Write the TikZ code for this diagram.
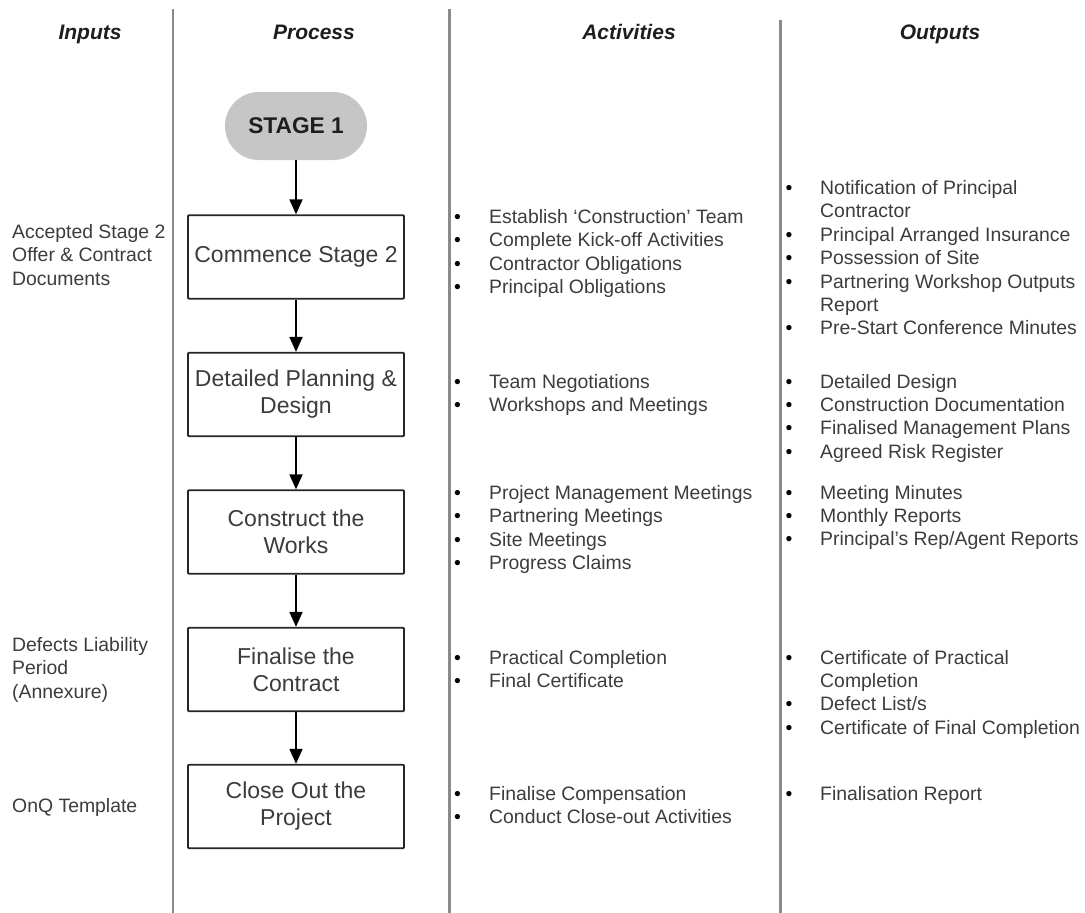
\documentclass[tikz,border=0pt]{standalone}
\usepackage{fontspec}
\setmainfont{Liberation Sans}
\usetikzlibrary{arrows.meta}
\definecolor{rule}{HTML}{8A8A8A}
\definecolor{ink}{HTML}{3C3C3C}
\definecolor{head}{HTML}{1E1E1E}
\definecolor{pill}{HTML}{C6C6C6}
\newcommand\blt{\textcolor{black}{\textbullet}}
\begin{document}
\begin{tikzpicture}[x=1pt,y=-1pt,
  colrule/.style={draw=rule,line width=2.6pt},
  header/.style={font=\fontsize{21}{25}\selectfont\bfseries\itshape,text=head,anchor=base,inner sep=0pt},
  stagebox/.style={draw=black!85,line width=1.8pt,fill=white,minimum width=216pt,minimum height=83.5pt,
    align=center,font=\fontsize{23}{27}\selectfont,text=ink,inner sep=0pt,rounded corners=1pt},
  startpill/.style={fill=pill,minimum width=142pt,minimum height=68pt,rounded corners=33.9pt,
    font=\fontsize{22.7}{26}\selectfont\bfseries,text=head,inner sep=0pt},
  flow/.style={draw=black,line width=1.8pt,-{Triangle[length=15pt,width=13pt]}},
  plain/.style={font=\fontsize{19.4}{23.4}\selectfont,text=ink,anchor=base west,inner sep=0pt}
]
\useasboundingbox (0,0) rectangle (1085,913);

% column separators
\draw[colrule] (173,9) -- (173,913);
\draw[colrule] (449.5,9) -- (449.5,913);
\draw[colrule] (780.5,20) -- (780.5,913);

% column headings
\node[header] (hIn)  at (90,39.5)  {Inputs};
\node[header] (hPr)  at (314,39.5) {Process};
\node[header] (hAc)  at (629,39.5) {Activities};
\node[header] (hOut) at (940,39.5) {Outputs};

% process flow
\node[startpill] (s1) at (296,126) {STAGE 1};
\node[stagebox] (b1) at (296,257)   {Commence Stage 2};
\node[stagebox] (b2) at (296,394.5) {Detailed Planning \&\\Design};
\node[stagebox] (b3) at (296,532)   {Construct the\\Works};
\node[stagebox] (b4) at (296,669.5) {Finalise the\\Contract};
\node[stagebox] (b5) at (296,806.5) {Close Out the\\Project};

\draw[flow] (s1) -- (b1);
\draw[flow] (b1) -- (b2);
\draw[flow] (b2) -- (b3);
\draw[flow] (b3) -- (b4);
\draw[flow] (b4) -- (b5);

% inputs
\node[plain] (in1) at (12,238.5) {\begin{tabular}[t]{@{}l@{}}Accepted Stage 2\\Offer \& Contract\\Documents\end{tabular}};
\node[plain] (in4) at (12,651.5) {\begin{tabular}[t]{@{}l@{}}Defects Liability\\Period\\(Annexure)\end{tabular}};
\node[plain] (in5) at (12,812.5) {OnQ Template};

% activities
\node[plain] (act1) at (454,223.5) {\begin{tabular}[t]{@{}p{35pt}@{}l@{}}
  \blt & Establish ‘Construction’ Team\\
  \blt & Complete Kick-off Activities\\
  \blt & Contractor Obligations\\
  \blt & Principal Obligations\end{tabular}};
\node[plain] (act2) at (454,388.5) {\begin{tabular}[t]{@{}p{35pt}@{}l@{}}
  \blt & Team Negotiations\\
  \blt & Workshops and Meetings\end{tabular}};
\node[plain] (act3) at (454,499.5) {\begin{tabular}[t]{@{}p{35pt}@{}l@{}}
  \blt & Project Management Meetings\\
  \blt & Partnering Meetings\\
  \blt & Site Meetings\\
  \blt & Progress Claims\end{tabular}};
\node[plain] (act4) at (454,664) {\begin{tabular}[t]{@{}p{35pt}@{}l@{}}
  \blt & Practical Completion\\
  \blt & Final Certificate\end{tabular}};
\node[plain] (act5) at (454,800) {\begin{tabular}[t]{@{}p{35pt}@{}l@{}}
  \blt & Finalise Compensation\\
  \blt & Conduct Close-out Activities\end{tabular}};

% outputs
\node[plain] (out1) at (785.5,194.5) {\begin{tabular}[t]{@{}p{34.5pt}@{}l@{}}
  \blt & Notification of Principal\\
       & Contractor\\
  \blt & Principal Arranged Insurance\\
  \blt & Possession of Site\\
  \blt & Partnering Workshop Outputs\\
       & Report\\
  \blt & Pre-Start Conference Minutes\end{tabular}};
\node[plain] (out2) at (785.5,388) {\begin{tabular}[t]{@{}p{34.5pt}@{}l@{}}
  \blt & Detailed Design\\
  \blt & Construction Documentation\\
  \blt & Finalised Management Plans\\
  \blt & Agreed Risk Register\end{tabular}};
\node[plain] (out3) at (785.5,499) {\begin{tabular}[t]{@{}p{34.5pt}@{}l@{}}
  \blt & Meeting Minutes\\
  \blt & Monthly Reports\\
  \blt & Principal’s Rep/Agent Reports\end{tabular}};
\node[plain] (out4) at (785.5,664) {\begin{tabular}[t]{@{}p{34.5pt}@{}l@{}}
  \blt & Certificate of Practical\\
       & Completion\\
  \blt & Defect List/s\\
  \blt & Certificate of Final Completion\end{tabular}};
\node[plain] (out5) at (785.5,800) {\begin{tabular}[t]{@{}p{34.5pt}@{}l@{}}
  \blt & Finalisation Report\end{tabular}};
\end{tikzpicture}
\end{document}
